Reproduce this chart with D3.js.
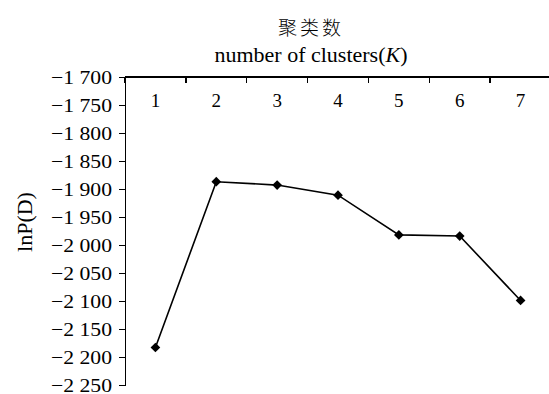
<!DOCTYPE html>
<meta charset="utf-8">
<style>
  body { margin: 0; background: #fff; }
  text { font-family: "Liberation Serif", "DejaVu Serif", serif; fill: #000; }
  .axis path, .axis line { stroke: #000; stroke-width: 1.5; fill: none; shape-rendering: crispEdges; }
</style>
<body>
<script src="https://d3js.org/d3.v7.min.js"></script>
<script>
  // data
  var clusters = ["1", "2", "3", "4", "5", "6", "7"];
  var lnPD = [-2183, -1887, -1893, -1911, -1982, -1984, -2099];
  var yTicks = [-1700, -1750, -1800, -1850, -1900, -1950, -2000, -2050, -2100, -2150, -2200, -2250];

  var W = 549, H = 394;
  var mLeft = 125, mTop = 77, mRight = 551, mBottom = 385;
  var serif = "'Liberation Serif', 'DejaVu Serif', serif";

  var svg = d3.select("body").append("svg")
    .attr("width", W).attr("height", H);

  var x = d3.scaleBand().domain(clusters).range([mLeft, mRight]);
  var y = d3.scaleLinear().domain([-1700, -2250]).range([mTop, mBottom]);

  function fmt(v) {
    var s = String(Math.abs(v));
    return "\u2212" + s.slice(0, 1) + " " + s.slice(1);
  }

  // y axis
  var gy = svg.append("g").attr("class", "axis")
    .attr("transform", "translate(" + mLeft + ",0)")
    .call(d3.axisLeft(y).tickValues(yTicks).tickSize(6).tickSizeOuter(0).tickFormat(fmt));
  gy.attr("font-family", null);
  gy.selectAll("text").style("font-family", serif).style("font-size", "19px")
    .attr("x", -13).attr("dy", "0.35em")
    .attr("textLength", 61).attr("lengthAdjust", "spacingAndGlyphs");

  // x axis on top, ticks at band edges, pointing down
  var edges = clusters.map(function (c) { return x(c); });
  var gx = svg.append("g").attr("class", "axis");
  gx.append("line").attr("x1", mLeft).attr("x2", W).attr("y1", mTop).attr("y2", mTop);
  gx.selectAll(".edge").data(edges).enter().append("line")
    .attr("x1", function (d) { return d; }).attr("x2", function (d) { return d; })
    .attr("y1", mTop).attr("y2", mTop + 6);
  svg.selectAll(".cat").data(clusters).enter().append("text")
    .attr("x", function (d) { return x(d) + x.bandwidth() / 2; })
    .attr("y", 107)
    .attr("text-anchor", "middle")
    .style("font-family", serif)
    .style("font-size", "19px")
    .text(function (d) { return d; });

  // titles
  svg.append("text").attr("x", 311).attr("y", 35).attr("text-anchor", "middle")
    .style("font-family", "'Noto Sans CJK SC', sans-serif").style("font-size", "19px").style("font-weight", 300)
    .style("letter-spacing", "3px")
    .text("聚类数");
  var t2 = svg.append("text").attr("x", 311).attr("y", 62).attr("text-anchor", "middle")
    .style("font-family", serif)
    .style("font-size", "22px");
  t2.append("tspan").text("number of clusters(");
  t2.append("tspan").style("font-style", "italic").text("K");
  t2.append("tspan").text(")");

  svg.append("text")
    .attr("transform", "translate(32,222) rotate(-90)")
    .attr("text-anchor", "middle")
    .style("font-family", serif)
    .style("font-size", "22px")
    .text("lnP(D)");

  // line + markers
  var pts = clusters.map(function (c, i) { return [x(c) + x.bandwidth() / 2, y(lnPD[i])]; });
  svg.append("path")
    .attr("d", d3.line()(pts))
    .attr("fill", "none").attr("stroke", "#000").attr("stroke-width", 1.6);
  svg.selectAll(".pt").data(pts).enter().append("path")
    .attr("transform", function (d) { return "translate(" + d[0] + "," + d[1] + ")"; })
    .attr("d", d3.symbol().type(d3.symbolDiamond2).size(60))
    .attr("fill", "#000");
</script>
</body>
